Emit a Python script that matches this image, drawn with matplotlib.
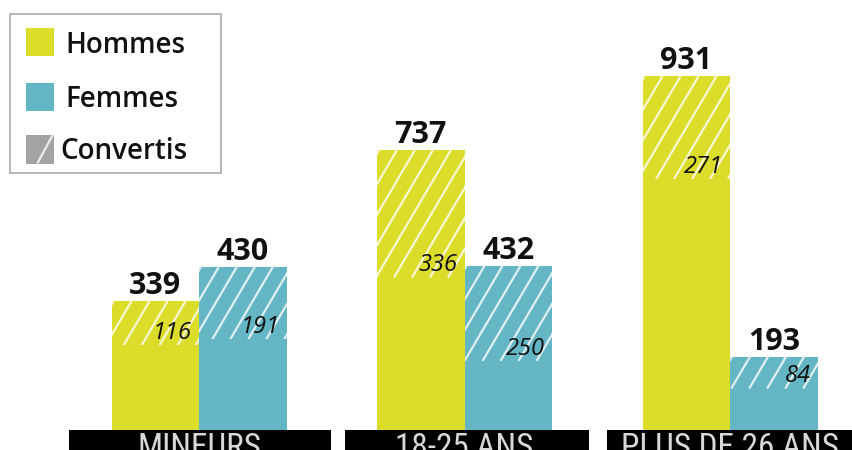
import matplotlib
matplotlib.use('Agg')
import matplotlib.pyplot as plt
from matplotlib.patches import Rectangle
from matplotlib import font_manager
import numpy as np

# Data
categories = ['MINEURS', '18-25 ANS', 'PLUS DE 26 ANS']
hommes = [339, 737, 931]
femmes = [430, 432, 193]
hommes_convertis = [116, 336, 271]
femmes_convertis = [191, 250, 84]
legend_labels = ['Hommes', 'Femmes', 'Convertis']

yellow = '#dcdc2a'
teal = '#64b6c4'
gray = '#a3a3a3'

# condensed font for the category labels, if one is around
names = {f.name for f in font_manager.fontManager.ttflist}
cond = 'Roboto'
for cand in ['Roboto Condensed', 'Open Sans Condensed', 'Liberation Sans Narrow',
             'Noto Sans Condensed', 'DejaVu Sans Condensed']:
    if cand in names:
        cond = cand
        break

W, H = 852, 450
fig = plt.figure(figsize=(W/100, H/100), dpi=100)
ax = fig.add_axes([0, 0, 1, 1])
ax.axis('off')

# layout (pixels)
x0px, step = 199, 265.5     # first group centre, group spacing
base = 430                  # baseline from top
ppy = 0.38                  # px per unit
ppx = step
xmin, xmax = -x0px/step, (W - x0px)/step
ymin, ymax = -(H - base)/ppy, base/ppy
ax.set_xlim(xmin, xmax)
ax.set_ylim(ymin, ymax)

def px(xp, yp):
    return xmin + xp/ppx, ymax - yp/ppy

def hatch(patch, spacing=18, slope=1.7, phase=2):
    bx, by = patch.get_x(), patch.get_y()
    w, h = patch.get_width(), patch.get_height()
    wpx, hpx = w*ppx, h*ppy
    run = hpx/slope
    for k in range(-1, int(np.ceil((wpx + run)/spacing)) + 2):
        xt = phase + k*spacing
        line, = ax.plot([bx + xt/ppx, bx + (xt - run)/ppx], [by + h, by],
                        color='white', lw=1.6, alpha=0.8, solid_capstyle='butt')
        line.set_clip_path(patch)

bw = 87.5/step
x = np.arange(len(categories))

for offs, vals, conv, col in [(-bw/2, hommes, hommes_convertis, yellow),
                              (bw/2, femmes, femmes_convertis, teal)]:
    ax.bar(x + offs, vals, bw, color=col, linewidth=0)
    segs = ax.bar(x + offs, conv, bw, bottom=np.array(vals) - np.array(conv),
                  color=col, linewidth=0)
    for p in segs:
        hatch(p)
    for xi, v, c in zip(x + offs, vals, conv):
        ax.annotate(str(v), (xi, v), xytext=(0, 5), textcoords='offset points',
                    ha='center', va='baseline', fontsize=22, fontweight='bold',
                    family='Open Sans', color='#111111')
        ax.annotate(str(c), (xi + bw/2, v - c), xytext=(-5, 4.5),
                    textcoords='offset points', ha='right', va='baseline',
                    fontsize=17, style='italic', family='Open Sans',
                    color='#111111')

# category boxes
box_l = [68.5, 345, 606.7]
box_r = [330.6, 589, 860]
fig.canvas.draw()
rend = fig.canvas.get_renderer()
for l, r, xi, cat in zip(box_l, box_r, x, categories):
    xl, _ = px(l, 0)
    xr, _ = px(r, 0)
    ax.add_patch(Rectangle((xl, ymin - 10), xr - xl, 10 - ymin,
                           color='black', linewidth=0, clip_on=False))
    t = ax.text(xi, px(0, 457)[1], cat, ha='center', va='baseline', fontsize=24,
                family=cond, color='#d8d8d8', clip_on=False)
    # fit to the width seen in the reference for the longest label
    if cat == 'PLUS DE 26 ANS':
        wtxt = t.get_window_extent(rend).width
        fs = 24*218/wtxt
for t in ax.texts[-3:]:
    t.set_fontsize(min(fs, 25))

# legend
lx0, ly0 = px(9.5, 173)
lx1, ly1 = px(220.5, 13.5)
ax.add_patch(Rectangle((lx0, ly0), lx1 - lx0, ly1 - ly0, facecolor='white',
                       edgecolor='#aaaaaa', linewidth=1.2, clip_on=False))
patch_tops = [28, 82.7, 135]
text_base = [53.3, 107.3, 159.5]
text_x = [65, 65, 60]
for lab, col, t, tb, tx in zip(legend_labels, [yellow, teal, gray],
                               patch_tops, text_base, text_x):
    px0, py0 = px(25.7, t + 28.5)
    px1, py1 = px(54, t)
    r = Rectangle((px0, py0), px1 - px0, py1 - py0, color=col, linewidth=0)
    ax.add_patch(r)
    if lab == 'Convertis':
        hatch(r, spacing=60, slope=1.85, phase=27)
    ax.text(*px(tx, tb), lab, ha='left', va='baseline', fontsize=20,
            fontweight='semibold', family='Open Sans', color='#111111')

fig.savefig('out.png', dpi=100, facecolor='white')
